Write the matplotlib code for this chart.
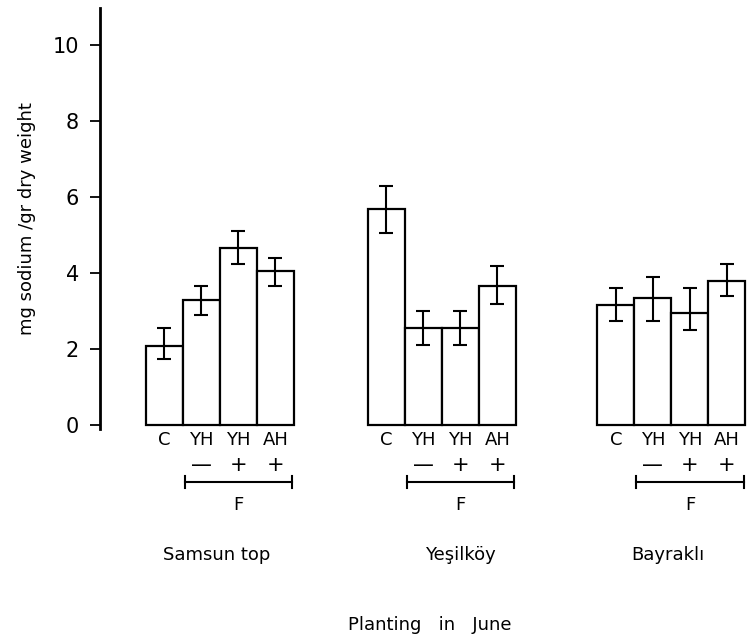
import matplotlib.pyplot as plt
import numpy as np

groups = ["Samsun top", "Yeşilköy", "Bayraklı"]
treatments = ["C", "YH", "YH", "AH"]
signs = ["", "—", "+", "+"]

samsun = [2.08, 3.3, 4.65, 4.05]
samsun_lo = [1.75, 2.9, 4.25, 3.65]
samsun_hi = [2.55, 3.65, 5.1, 4.4]

yesilkoy = [5.7, 2.55, 2.55, 3.65]
yesilkoy_lo = [5.05, 2.1, 2.1, 3.2]
yesilkoy_hi = [6.3, 3.0, 3.0, 4.2]

bayrakli = [3.15, 3.35, 2.95, 3.8]
bayrakli_lo = [2.75, 2.75, 2.5, 3.4]
bayrakli_hi = [3.6, 3.9, 3.6, 4.25]

means = [samsun, yesilkoy, bayrakli]
lows = [samsun_lo, yesilkoy_lo, bayrakli_lo]
highs = [samsun_hi, yesilkoy_hi, bayrakli_hi]

# left edge of each group's first bar (bar width = 1)
starts = [0, 6, 12.2]
name_x = [1.9, 8.5, 14.1]

fig = plt.figure(figsize=(7.48, 6.36), dpi=100)
ax = fig.add_axes([0.1337, 0.3255, 0.8663, 0.6615])

for g in range(3):
    x = starts[g] + np.arange(4) + 0.5
    m = np.array(means[g])
    lo = m - np.array(lows[g])
    hi = np.array(highs[g]) - m
    ax.bar(x, m, width=1.0, color="white", edgecolor="black", linewidth=1.6, zorder=2)
    ax.errorbar(x, m, yerr=[lo, hi], fmt="none", ecolor="black", elinewidth=1.5,
                capsize=5, capthick=1.5, zorder=3)
    for i in range(4):
        ax.text(x[i], -0.39, treatments[i], ha="center", va="center", fontsize=13,
                clip_on=False)
        if signs[i]:
            ax.text(x[i], -1.05, signs[i], ha="center", va="center", fontsize=15,
                    clip_on=False)
    # bracket under the F treatments
    x0, x1 = starts[g] + 1.05, starts[g] + 3.95
    ax.plot([x0, x1], [-1.5, -1.5], color="black", lw=1.5, clip_on=False)
    ax.plot([x0, x0], [-1.65, -1.35], color="black", lw=1.5, clip_on=False)
    ax.plot([x1, x1], [-1.65, -1.35], color="black", lw=1.5, clip_on=False)
    ax.text((x0 + x1) / 2, -2.1, "F", ha="center", va="center", fontsize=13,
            clip_on=False)
    ax.text(name_x[g], -3.42, groups[g], ha="center", va="center",
            fontsize=13, clip_on=False)

ax.text(7.68, -5.26, "Planting   in   June", ha="center", va="center", fontsize=13,
        clip_on=False)

ax.set_xlim(-1.24, 16.27)
ax.set_ylim(-0.1, 10.97)
ax.set_yticks([0, 2, 4, 6, 8, 10])
ax.set_yticklabels(["0", "2", "4", "6", "8", "10"], fontsize=15)
ax.tick_params(axis="y", direction="out", length=7, width=1.3, pad=8)
ax.set_xticks([])
for s in ["top", "right", "bottom"]:
    ax.spines[s].set_visible(False)
ax.spines["left"].set_linewidth(2)
ax.set_ylabel("mg sodium /gr dry weight", fontsize=13, labelpad=12)

fig.savefig("out.png", dpi=100)
